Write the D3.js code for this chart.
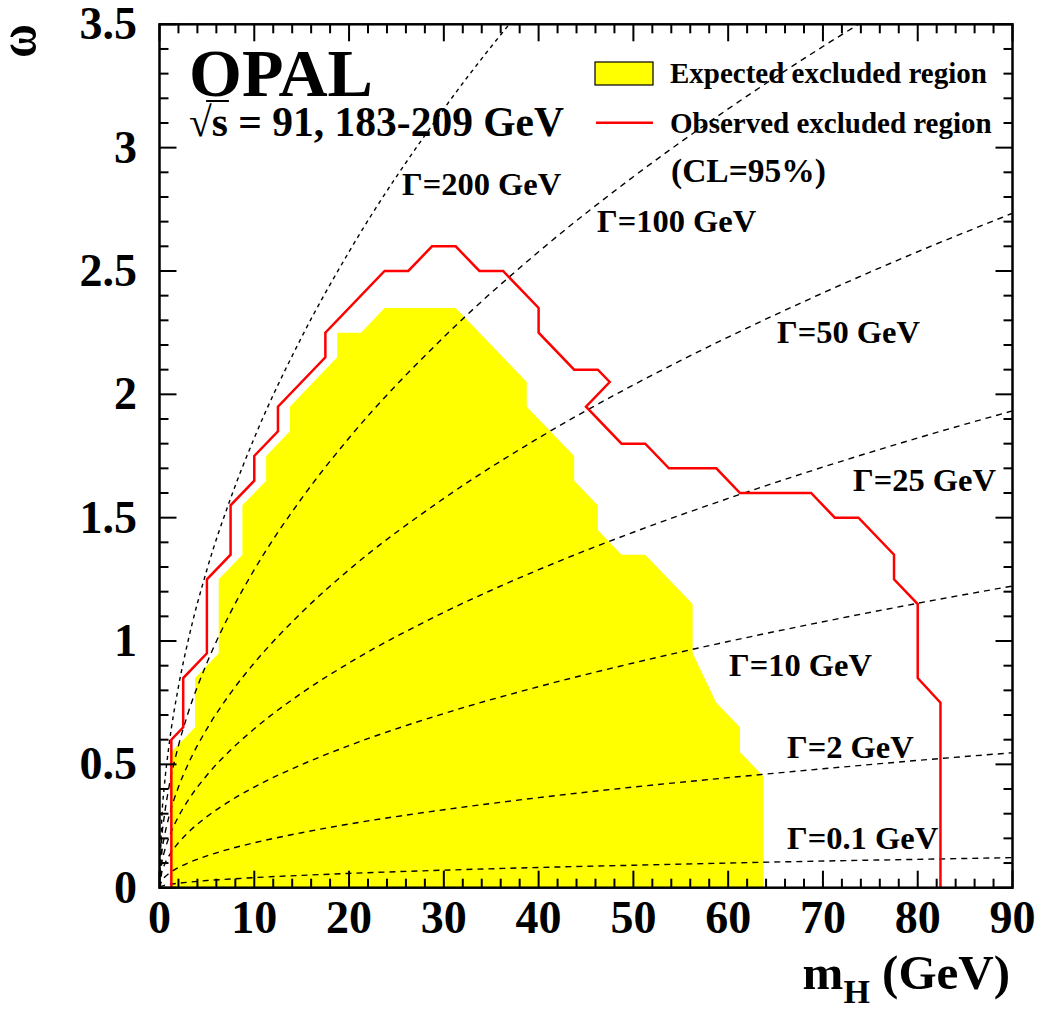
<!DOCTYPE html>
<html>
<head>
<meta charset="utf-8">
<script src="https://cdn.jsdelivr.net/npm/d3@7"></script>
<style>
  html, body { margin: 0; padding: 0; background: #fff; }
  svg { display: block; }
  text { font-family: "Liberation Serif", "Times New Roman", serif; font-weight: bold; fill: #000; }
</style>
</head>
<body>
<svg id="chart" width="1042" height="1010"></svg>
<script>
// ---------- data ----------
// expected excluded region (yellow polygon), [mH, omega]
const expectedMH = [1.25, 1.25, 3.75, 3.75, 6.25, 6.25, 8.75, 8.75, 11.25, 11.25, 13.75, 13.75, 16.25, 18.75, 18.75, 21.25, 23.75, 31.25, 36.25, 38.75, 38.75, 43.75, 43.75, 46.25, 46.25, 48.75, 51.25, 56.25, 56.25, 58.75, 61.25, 61.25, 63.75, 63.75];
const expectedW  = [0, 0.55, 0.65, 0.85, 0.95, 1.25, 1.35, 1.55, 1.65, 1.75, 1.85, 1.95, 2.05, 2.15, 2.25, 2.25, 2.35, 2.35, 2.15, 2.05, 1.95, 1.75, 1.65, 1.55, 1.45, 1.35, 1.35, 1.15, 0.95, 0.75, 0.65, 0.55, 0.45, 0];
// observed excluded region (red contour)
const observedMH = [1.25, 1.25, 2.5, 2.5, 5, 5, 7.5, 7.5, 10, 10, 12.5, 12.5, 17.5, 17.5, 23.75, 26.25, 28.75, 31.25, 33.75, 36.25, 40, 40, 43.75, 46.25, 47.5, 45, 48.75, 51.25, 53.75, 58.75, 61.25, 68.75, 71.25, 73.75, 77.5, 77.5, 80, 80, 82.4, 82.4];
const observedW  = [0, 0.6, 0.65, 0.85, 0.95, 1.25, 1.35, 1.55, 1.65, 1.75, 1.85, 1.95, 2.15, 2.25, 2.5, 2.5, 2.6, 2.6, 2.5, 2.5, 2.35, 2.25, 2.1, 2.1, 2.05, 1.95, 1.8, 1.8, 1.7, 1.7, 1.6, 1.6, 1.5, 1.5, 1.35, 1.25, 1.15, 0.85, 0.75, 0];
// constant-width curves: omega read at these mH values
const curveMH = [0, 0.25, 0.5, 1, 2, 3, 5, 7.5, 10, 15, 20, 30, 40, 50, 60, 70, 80, 90];
const wGamma200 = [0, 0.288, 0.408, 0.576, 0.815, 0.998, 1.289, 1.578, 1.823, 2.232, 2.578, 3.157, 3.645];
const wGamma100 = [0, 0.204, 0.288, 0.408, 0.576, 0.706, 0.911, 1.116, 1.289, 1.578, 1.823, 2.232, 2.578, 2.882, 3.157, 3.410, 3.645];
const wGamma50  = [0, 0.144, 0.204, 0.288, 0.408, 0.499, 0.644, 0.789, 0.911, 1.116, 1.289, 1.578, 1.823, 2.038, 2.232, 2.411, 2.578, 2.734];
const wGamma25  = [0, 0.102, 0.144, 0.204, 0.288, 0.353, 0.456, 0.558, 0.644, 0.789, 0.911, 1.116, 1.289, 1.441, 1.578, 1.705, 1.823, 1.933];
const wGamma10  = [0, 0.064, 0.091, 0.129, 0.182, 0.223, 0.288, 0.353, 0.408, 0.499, 0.576, 0.706, 0.815, 0.911, 0.998, 1.078, 1.153, 1.223];
const wGamma2   = [0, 0.029, 0.041, 0.058, 0.082, 0.100, 0.129, 0.158, 0.182, 0.223, 0.258, 0.316, 0.365, 0.408, 0.446, 0.482, 0.516, 0.547];
const wGamma01  = [0, 0.006, 0.009, 0.013, 0.018, 0.022, 0.029, 0.035, 0.041, 0.050, 0.058, 0.071, 0.082, 0.091, 0.100, 0.108, 0.115, 0.122];
const gammaLabels = ["Γ=200 GeV", "Γ=100 GeV", "Γ=50 GeV", "Γ=25 GeV", "Γ=10 GeV", "Γ=2 GeV", "Γ=0.1 GeV"];
const xTickLabels = ["0", "10", "20", "30", "40", "50", "60", "70", "80", "90"];
const yTickLabels = ["0", "0.5", "1", "1.5", "2", "2.5", "3", "3.5"];

// ---------- layout ----------
const X0 = 159.5, X1 = 1012.5, Y0 = 887.7, Y1 = 24.3;
const x = d3.scaleLinear().domain([0, 90]).range([X0, X1]);
const y = d3.scaleLinear().domain([0, 3.5]).range([Y0, Y1]);
const svg = d3.select("#chart");

svg.append("defs").append("clipPath").attr("id", "plotclip")
  .append("rect").attr("x", X0).attr("y", Y1).attr("width", X1 - X0).attr("height", Y0 - Y1);

const plot = svg.append("g").attr("clip-path", "url(#plotclip)");

// yellow expected region
const expPts = expectedMH.map((m, i) => [m, expectedW[i]]);
plot.append("path")
  .attr("d", d3.line().x(d => x(d[0])).y(d => y(d[1]))(expPts) + "Z")
  .attr("fill", "#ffff00").attr("stroke", "none");

// dashed constant-width curves
const curves = [wGamma200, wGamma100, wGamma50, wGamma25, wGamma10, wGamma2, wGamma01];
const curveLine = d3.line().x(d => x(d[0])).y(d => y(d[1])).curve(d3.curveMonotoneX);
curves.forEach((ws, k) => {
  const pts = ws.map((w, i) => [curveMH[i], w]);
  plot.append("path")
    .attr("d", curveLine(pts))
    .attr("fill", "none").attr("stroke", "#000")
    .attr("stroke-width", 1.4)
    .attr("stroke-dasharray", k === 0 ? "4,4" : "6,5");
});

// red observed contour
const obsPts = observedMH.map((m, i) => [m, observedW[i]]);
plot.append("path")
  .attr("d", d3.line().x(d => x(d[0])).y(d => y(d[1]))(obsPts))
  .attr("fill", "none").attr("stroke", "#ff0000").attr("stroke-width", 2.5)
  .attr("stroke-linejoin", "miter");

// ---------- frame & ticks ----------
const axes = svg.append("g").attr("stroke", "#000").attr("stroke-width", 2);
const xt = d3.range(0, 90.001, 2);
const yt = d3.range(0, 36, 1).map(v => v / 10);
xt.forEach(v => {
  const L = Math.abs(v % 10) < 1e-6 ? 17 : 9;
  axes.append("line").attr("x1", x(v)).attr("x2", x(v)).attr("y1", Y0).attr("y2", Y0 - L);
  axes.append("line").attr("x1", x(v)).attr("x2", x(v)).attr("y1", Y1).attr("y2", Y1 + L);
});
yt.forEach(v => {
  const L = Math.abs(Math.round(v * 10) % 5) === 0 ? 17 : 9;
  axes.append("line").attr("y1", y(v)).attr("y2", y(v)).attr("x1", X0).attr("x2", X0 + L);
  axes.append("line").attr("y1", y(v)).attr("y2", y(v)).attr("x1", X1).attr("x2", X1 - L);
});
svg.append("rect").attr("x", X0).attr("y", Y1).attr("width", X1 - X0).attr("height", Y0 - Y1)
  .attr("fill", "none").attr("stroke", "#000").attr("stroke-width", 2.5);

// tick labels
xTickLabels.forEach((t, i) => {
  svg.append("text").attr("x", x(i * 10)).attr("y", 933).attr("text-anchor", "middle")
    .attr("font-size", 46).text(t);
});
yTickLabels.forEach((t, i) => {
  svg.append("text").attr("x", 137).attr("y", y(i * 0.5) + 15).attr("text-anchor", "end")
    .attr("font-size", 46).text(t);
});

// axis titles
svg.append("text").attr("transform", "translate(22,41) rotate(-90) scale(1,1.15)")
  .attr("text-anchor", "middle").attr("dy", "0.24em")
  .attr("font-size", 46).text("ω");
const xt2 = svg.append("text").attr("x", 1010).attr("y", 989).attr("text-anchor", "end").attr("font-size", 49);
xt2.append("tspan").text("m");
xt2.append("tspan").attr("font-size", 34).attr("dy", 14).text("H");
xt2.append("tspan").attr("dy", -14).text(" (GeV)");

// OPAL labels
svg.append("text").attr("x", 189).attr("y", 96).attr("font-size", 68).text("OPAL");
const sq = svg.append("text").attr("x", 189).attr("y", 136).attr("font-size", 41.5);
sq.append("tspan").text("√");
sq.append("tspan").text("s = 91, 183-209 GeV");
const sNode = sq.node();
const s0 = sNode.getStartPositionOfChar(0).x + sNode.getExtentOfChar(0).width * 0.75;
const s1 = sNode.getEndPositionOfChar(1).x + 1;
svg.append("line").attr("x1", s0).attr("x2", s1).attr("y1", 101).attr("y2", 101)
  .attr("stroke", "#000").attr("stroke-width", 2);

// legend
svg.append("rect").attr("x", 595).attr("y", 62).attr("width", 58).attr("height", 23)
  .attr("fill", "#ffff00").attr("stroke", "#000").attr("stroke-width", 1.2);
svg.append("text").attr("x", 670).attr("y", 83).attr("font-size", 29).text("Expected excluded region");
svg.append("line").attr("x1", 596).attr("x2", 653).attr("y1", 122.7).attr("y2", 122.7)
  .attr("stroke", "#ff0000").attr("stroke-width", 2.5);
svg.append("text").attr("x", 670).attr("y", 133).attr("font-size", 29).text("Observed excluded region");
svg.append("text").attr("x", 671).attr("y", 182).attr("font-size", 33.5).text("(CL=95%)");

// width labels
const gammaPos = [[402, 195], [597, 232], [777, 343], [853, 491], [729, 676], [787, 758], [787, 849]];
gammaLabels.forEach((t, i) => {
  svg.append("text").attr("x", gammaPos[i][0]).attr("y", gammaPos[i][1]).attr("font-size", 32.5).text(t);
});
</script>
</body>
</html>
